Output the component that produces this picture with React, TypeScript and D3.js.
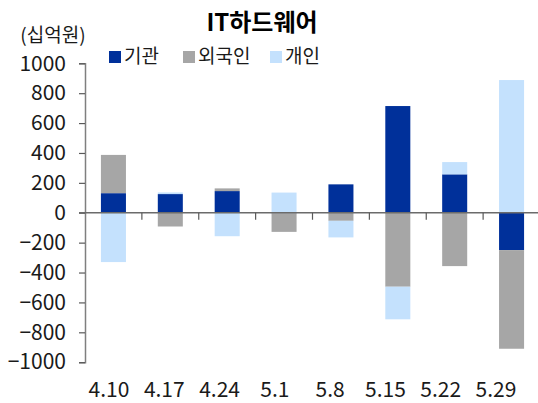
import React, { useEffect, useRef } from "react";
import * as d3 from "d3";

const dates = ["4.10", "4.17", "4.24", "5.1", "5.8", "5.15", "5.22", "5.29"];
const institution = [131, 125, 145, -3, 190, 714, 257, -250];
const foreign = [256, -92, 18, -125, -54, -495, -357, -660];
const individual = [-330, 11, -157, 135, -111, -218, 82, 888];
const seriesNames = ["기관", "외국인", "개인"];
const yTicks = [1000, 800, 600, 400, 200, 0, -200, -400, -600, -800, -1000];

const colors = ["#00309a", "#a6a6a6", "#c4e1fd"];
const FONT = "'Noto Sans CJK KR', 'Noto Sans', sans-serif";

export default function App() {
  const ref = useRef<SVGSVGElement | null>(null);

  useEffect(() => {
    if (!ref.current) return;
    const svg = d3.select(ref.current);
    svg.selectAll("*").remove();

    const rows = dates.map((d, i) => ({
      date: d,
      [seriesNames[0]]: institution[i],
      [seriesNames[1]]: foreign[i],
      [seriesNames[2]]: individual[i],
    }));

    const stacked = d3
      .stack<any>()
      .keys(seriesNames)
      .offset(d3.stackOffsetDiverging)(rows);

    const x = d3
      .scaleBand()
      .domain(dates)
      .range([85, 540])
      .paddingInner(0.56)
      .paddingOuter(0.28);

    // labels in the original sit on a slightly tighter spacing than the bars
    const xLabel = d3.scalePoint().domain(dates).range([109, 496]);

    const y = d3.scaleLinear().domain([-1000, 1000]).range([362.2, 63.3]);

    // bars
    svg
      .append("g")
      .selectAll("g")
      .data(stacked)
      .enter()
      .append("g")
      .attr("fill", (d, i) => colors[i])
      .selectAll("rect")
      .data((d) => d)
      .enter()
      .append("rect")
      .attr("x", (d: any) => x(d.data.date)!)
      .attr("width", x.bandwidth())
      .attr("y", (d) => y(Math.max(d[0], d[1])))
      .attr("height", (d) => Math.abs(y(d[0]) - y(d[1])));

    // y axis
    const yAxis = svg
      .append("g")
      .attr("transform", "translate(85,0)")
      .call(d3.axisLeft(y).tickValues(yTicks).tickSize(6).tickPadding(13).tickFormat(d3.format("d")));
    yAxis.select(".domain").attr("stroke", "#7f7f7f").attr("stroke-width", 1.5);
    yAxis.selectAll(".tick line").attr("stroke", "#595959").attr("stroke-width", 1.2);
    yAxis
      .selectAll("text")
      .style("font-family", FONT)
      .style("font-size", "21px")
      .style("fill", "#1a1a1a");

    // x axis line at zero with boundary ticks
    const zero = y(0);
    svg
      .append("line")
      .attr("x1", 79)
      .attr("x2", 538)
      .attr("y1", zero)
      .attr("y2", zero)
      .attr("stroke", "#6b6b6b")
      .attr("stroke-width", 1.5);

    const step = x.step();
    svg
      .append("g")
      .selectAll("line")
      .data(dates)
      .enter()
      .append("line")
      .attr("x1", (d) => x(d)! - x.paddingOuter() * step + step)
      .attr("x2", (d) => x(d)! - x.paddingOuter() * step + step)
      .attr("y1", zero)
      .attr("y2", zero + 7)
      .attr("stroke", "#595959")
      .attr("stroke-width", 1.2);

    svg
      .append("g")
      .selectAll("text")
      .data(dates)
      .enter()
      .append("text")
      .attr("x", (d) => xLabel(d)!)
      .attr("y", 397)
      .attr("text-anchor", "middle")
      .style("font-family", FONT)
      .style("font-size", "21px")
      .style("fill", "#1a1a1a")
      .text((d) => d);

    // title & unit
    svg
      .append("text")
      .attr("x", 262)
      .attr("y", 31)
      .attr("text-anchor", "middle")
      .style("font-family", FONT)
      .style("font-size", "24px")
      .style("font-weight", "bold")
      .style("fill", "#000")
      .text("IT하드웨어");

    svg
      .append("text")
      .attr("x", 53)
      .attr("y", 42)
      .attr("text-anchor", "middle")
      .style("font-family", FONT)
      .style("font-size", "19px")
      .style("fill", "#1a1a1a")
      .text("(십억원)");

    // legend
    const legendX = [109, 183, 270];
    const legend = svg
      .append("g")
      .selectAll("g")
      .data(seriesNames)
      .enter()
      .append("g")
      .attr("transform", (d, i) => `translate(${legendX[i]},50)`);
    legend
      .append("rect")
      .attr("width", 12)
      .attr("height", 12)
      .attr("y", 1)
      .attr("fill", (d, i) => colors[i]);
    legend
      .append("text")
      .attr("x", 15)
      .attr("y", 13)
      .style("font-family", FONT)
      .style("font-size", "19px")
      .style("fill", "#1a1a1a")
      .text((d) => d);
  }, []);

  return (
    <svg
      ref={ref}
      width={538}
      height={403}
      style={{ position: "absolute", left: 0, top: 0, background: "#fff" }}
    />
  );
}
